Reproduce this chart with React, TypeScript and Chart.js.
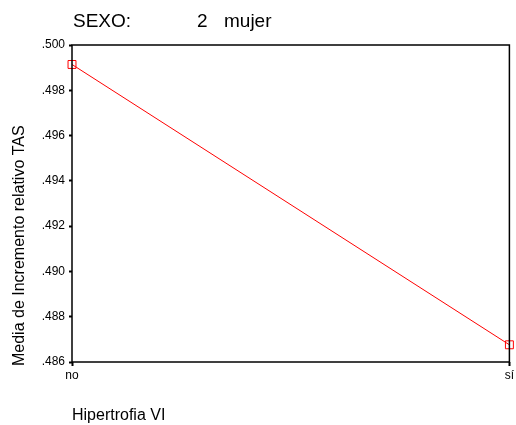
import React, { useEffect, useRef } from "react";
import { Chart, registerables } from "chart.js";

Chart.register(...registerables);

const categories = ["no", "sí"];
const meanValues = [0.49914, 0.48676];
const yTickMin = 0.486;
const yTickMax = 0.5;
const yTickStep = 0.002;
const titleParts = ["SEXO:", "2", "mujer"];
const xTitle = "Hipertrofia VI";
const yTitle = "Media de Incremento relativo TAS";

const FONT = "'Liberation Sans', Arial, sans-serif";

const framePlugin = {
  id: "frame",
  afterDraw(chart: any) {
    const { ctx, chartArea } = chart;
    ctx.save();
    ctx.strokeStyle = "#000";
    ctx.lineWidth = 1.5;
    ctx.strokeRect(chartArea.left, chartArea.top, chartArea.right - chartArea.left, chartArea.bottom - chartArea.top);
    ctx.restore();
  },
};

const headerPlugin = {
  id: "header",
  afterDraw(chart: any) {
    const { ctx, chartArea } = chart;
    ctx.save();
    ctx.fillStyle = "#000";
    ctx.font = `19px ${FONT}`;
    ctx.textBaseline = "alphabetic";
    ctx.textAlign = "left";
    const offsets = [1, 125, 152];
    titleParts.forEach((t, i) => {
      ctx.fillText(t, chartArea.left + offsets[i], 26.5);
    });
    // vertical axis title
    ctx.font = `16px ${FONT}`;
    ctx.translate(20, chartArea.bottom + 4);
    ctx.rotate(-Math.PI / 2);
    ctx.textAlign = "left";
    ctx.textBaseline = "middle";
    ctx.fillText(yTitle, 0, 0);
    ctx.restore();
  },
};

export default function App() {
  const ref = useRef<HTMLCanvasElement | null>(null);
  useEffect(() => {
    if (!ref.current) return;
    const chart = new Chart(ref.current, {
      type: "line",
      data: {
        labels: categories,
        datasets: [
          {
            data: meanValues,
            borderColor: "#ff0000",
            borderWidth: 1,
            pointStyle: "rect",
            pointRadius: 5.6,
            pointBorderColor: "#ff0000",
            pointBackgroundColor: "rgba(0,0,0,0)",
            pointBorderWidth: 1,
            tension: 0,
            clip: false as any,
          },
        ],
      },
      options: {
        responsive: false,
        animation: false,
        layout: { padding: { top: 45, right: 4, left: 0, bottom: 0 } },
        plugins: {
          legend: { display: false },
          tooltip: { enabled: false },
          title: { display: false },
        },
        scales: {
          x: {
            type: "category",
            offset: false,
            afterFit(scale: any) {
              scale.height = 63;
              scale.paddingRight = 0;
              scale.paddingLeft = 0;
            },
            grid: {
              display: true,
              drawOnChartArea: false,
              drawTicks: true,
              tickLength: 4,
              tickWidth: 2,
              tickColor: "#000",
            },
            border: { display: false },
            ticks: {
              color: "#000",
              font: { family: FONT, size: 12 },
              padding: 2,
              maxRotation: 0,
            },
            title: {
              display: true,
              text: xTitle,
              align: "start",
              color: "#000",
              font: { family: FONT, size: 16 },
              padding: { top: 0, bottom: 0 },
            },
          },
          y: {
            min: yTickMin,
            max: yTickMax,
            afterFit(scale: any) {
              scale.width = 72;
            },
            grid: {
              display: true,
              drawOnChartArea: false,
              drawTicks: true,
              tickLength: 3,
              tickWidth: 2,
              tickColor: "#000",
            },
            border: { display: false },
            ticks: {
              stepSize: yTickStep,
              color: "#000",
              font: { family: FONT, size: 12 },
              padding: 4,
              callback: (v: any) => Number(v).toFixed(3).replace(/^0/, ""),
            },
            title: { display: false },
          },
        },
      },
      plugins: [framePlugin, headerPlugin],
    });
    return () => chart.destroy();
  }, []);
  return (
    <div style={{ position: "fixed", left: 0, top: 0, width: 516, height: 425, background: "#fff" }}>
      <canvas ref={ref} width={516} height={425} style={{ display: "block" }} />
    </div>
  );
}
